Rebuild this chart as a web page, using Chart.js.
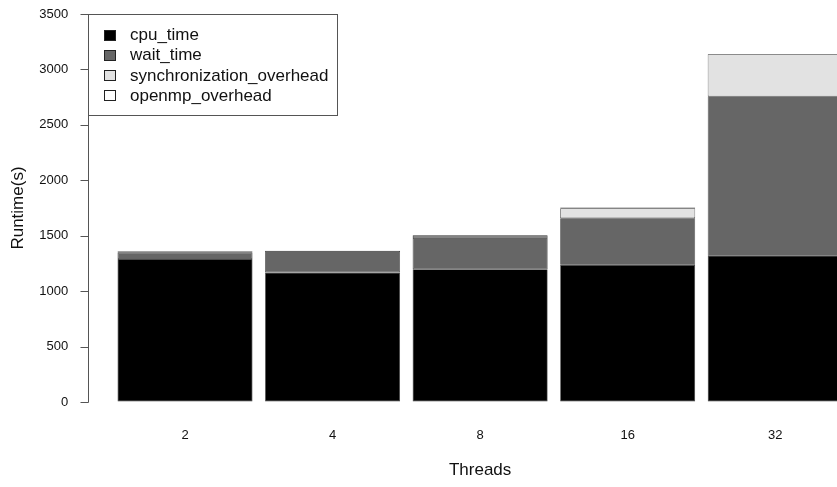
<!DOCTYPE html>
<html>
<head>
<meta charset="utf-8">
<script src="https://cdn.jsdelivr.net/npm/chart.js@4.4.1/dist/chart.umd.min.js"></script>
<style>
  html, body { margin: 0; padding: 0; background: #fff; overflow: hidden; }
  #wrap { width: 860px; height: 487px; }
</style>
</head>
<body>
<div id="wrap"><canvas id="c" width="860" height="487"></canvas></div>
<script>
// Runtime breakdown per thread count (seconds)
const threads = ['2', '4', '8', '16', '32'];
const cpuTime = [1290, 1168, 1197, 1238, 1320];
const waitTime = [57, 194, 282, 419, 1437];
const syncOverhead = [10, 2, 18, 90, 379];
const openmpOverhead = [5, 1, 8, 8, 2];
const yTickValues = [0, 500, 1000, 1500, 2000, 2500, 3000, 3500];

const FONT = '"Liberation Sans", Arial, Helvetica, sans-serif';

// Base-graphics style y axis (line + outward ticks) and boxed legend
const baseAxisAndLegend = {
  id: 'baseAxisAndLegend',
  afterDraw(chart) {
    const ctx = chart.ctx;
    const y = chart.scales.y;
    const ax = 88.5;
    const yBottom = Math.round(y.getPixelForValue(yTickValues[0])) + 0.5;
    const yTop = Math.round(y.getPixelForValue(yTickValues[yTickValues.length - 1])) + 0.5;
    ctx.save();
    ctx.strokeStyle = '#555';
    ctx.lineWidth = 1;
    ctx.beginPath();
    ctx.moveTo(ax, yBottom);
    ctx.lineTo(ax, yTop);
    yTickValues.forEach(v => {
      const py = Math.round(y.getPixelForValue(v)) + 0.5;
      ctx.moveTo(ax, py);
      ctx.lineTo(ax - 8, py);
    });
    ctx.stroke();

    // legend box anchored at the top of the axis
    const boxL = ax, boxT = yTop, boxR = 337.5, boxB = 115.5;
    ctx.fillStyle = '#fff';
    ctx.fillRect(boxL, boxT, boxR - boxL, boxB - boxT);
    ctx.strokeStyle = '#555';
    ctx.strokeRect(boxL, boxT, boxR - boxL, boxB - boxT);
    ctx.font = '17px ' + FONT;
    ctx.textBaseline = 'middle';
    ctx.textAlign = 'left';
    chart.data.datasets.forEach((ds, i) => {
      const cy = 34.5 + i * 20.3;
      ctx.fillStyle = ds.backgroundColor;
      ctx.fillRect(104.5, Math.round(cy - 5) + 0.5, 11, 10);
      ctx.strokeStyle = '#222';
      ctx.strokeRect(104.5, Math.round(cy - 5) + 0.5, 11, 10);
      ctx.fillStyle = '#111';
      ctx.fillText(ds.label, 130, cy + 1);
    });
    ctx.restore();
  }
};

const seg = (label, data, color) => ({
  label,
  data,
  backgroundColor: color,
  borderColor: '#333333',
  borderWidth: 0.7,
  borderSkipped: false,
  categoryPercentage: 1,
  barPercentage: 0.915
});

new Chart(document.getElementById('c'), {
  type: 'bar',
  data: {
    labels: threads,
    datasets: [
      seg('cpu_time', cpuTime, '#000000'),
      seg('wait_time', waitTime, '#666666'),
      seg('synchronization_overhead', syncOverhead, '#e2e2e2'),
      seg('openmp_overhead', openmpOverhead, '#ffffff')
    ]
  },
  options: {
    responsive: false,
    devicePixelRatio: 1,
    animation: false,
    layout: { padding: { left: 0, right: 11, top: 14, bottom: 0 } },
    plugins: {
      legend: { display: false },
      tooltip: { enabled: false }
    },
    scales: {
      x: {
        stacked: true,
        offset: true,
        grid: { display: false, drawTicks: false },
        border: { display: false },
        ticks: { color: '#111', padding: 26, font: { family: FONT, size: 13 } },
        title: {
          display: true,
          text: 'Threads',
          color: '#111',
          font: { family: FONT, size: 17 },
          padding: { top: 0, bottom: 6 }
        },
        afterFit(scale) { scale.height = 85; }
      },
      y: {
        stacked: true,
        min: 0,
        max: 3500,
        // invisible tick marks only reserve the gap between labels and bars
        grid: { display: true, drawOnChartArea: false, drawTicks: true, tickLength: 43, color: 'rgba(0,0,0,0)' },
        border: { display: false },
        afterBuildTicks(scale) { scale.ticks = yTickValues.map(v => ({ value: v })); },
        ticks: {
          color: '#111',
          padding: 0,
          font: { family: FONT, size: 13 },
          callback: v => String(v)
        },
        title: {
          display: true,
          text: 'Runtime(s)',
          color: '#111',
          font: { family: FONT, size: 17 },
          padding: { top: 8, bottom: 0 }
        },
        afterFit(scale) { scale.width = 111.25; }
      }
    }
  },
  plugins: [baseAxisAndLegend]
});
</script>
</body>
</html>
